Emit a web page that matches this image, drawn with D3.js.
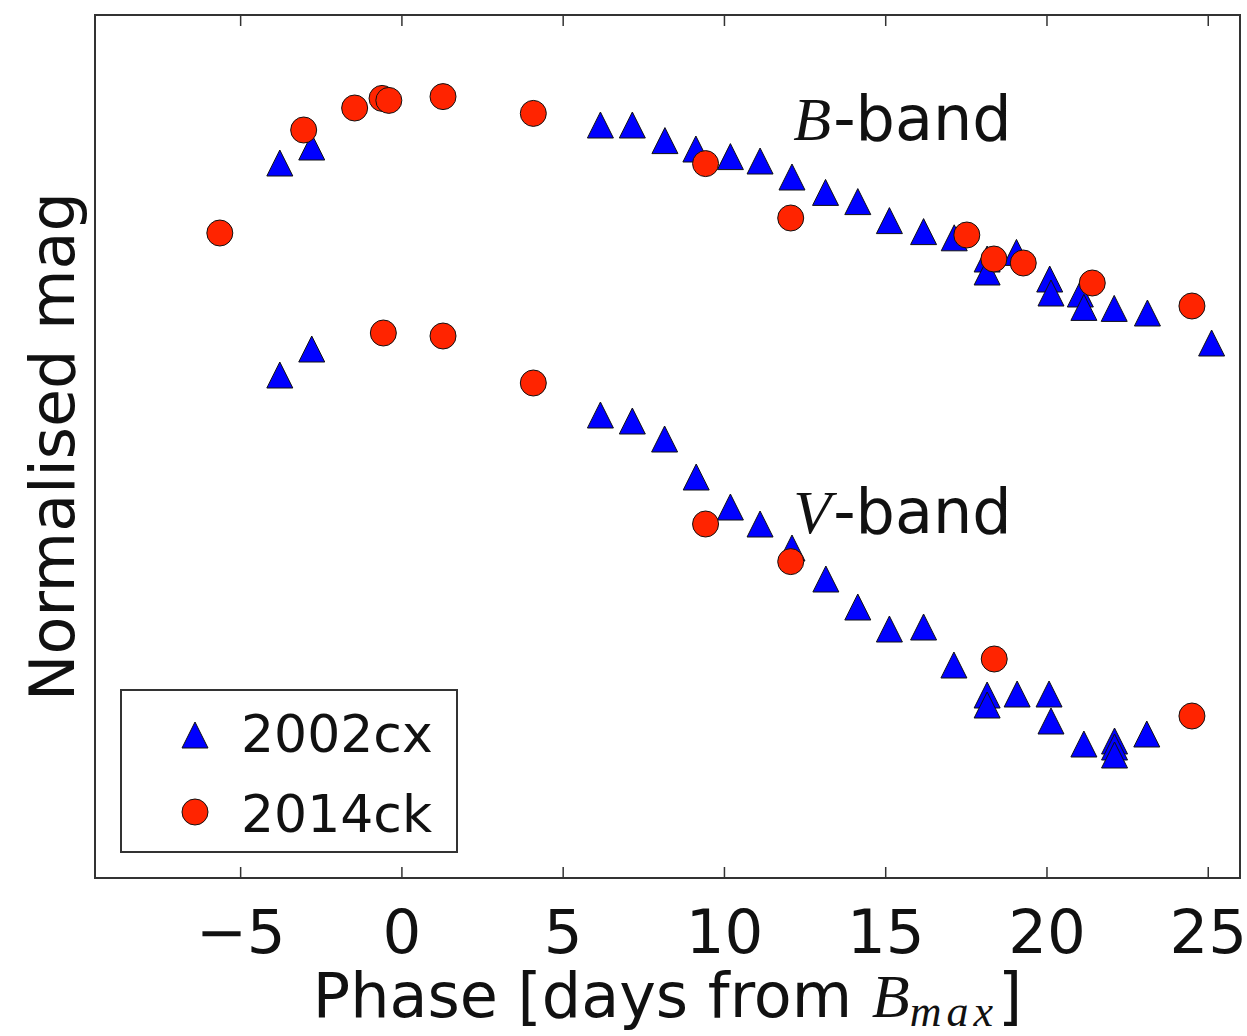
<!DOCTYPE html>
<html>
<head>
<meta charset="utf-8">
<script src="https://cdn.jsdelivr.net/npm/d3@7"></script>
<style>
  body { margin: 0; background: #fff; }
  svg { display: block; font-family: "DejaVu Sans", sans-serif; }
</style>
</head>
<body>
<svg id="chart" width="1247" height="1036"></svg>
<script>
// 2002cx, B-band
const cxBPhase = [-3.77, -2.78, 6.17, 7.16, 8.17, 9.13, 10.2, 11.12, 12.11, 13.15, 14.15, 15.13, 16.19, 17.14, 18.16, 18.16, 19.07, 20.1, 20.14, 21.05, 21.16, 22.1, 23.13, 25.12];
const cxBMag   = [0.34, 0.26, 0.15, 0.15, 0.228, 0.27, 0.308, 0.33, 0.41, 0.487, 0.533, 0.628, 0.683, 0.714, 0.82, 0.885, 0.787, 0.92, 0.99, 0.995, 1.062, 1.067, 1.09, 1.24];

// 2014ck, B-band
const ckBPhase = [-5.63, -3.03, -1.45, -0.6, -0.39, 1.29, 4.09, 9.43, 12.07, 17.53, 18.37, 19.28, 21.42, 24.51];
const ckBMag   = [0.69, 0.175, 0.065, 0.017, 0.027, 0.008, 0.092, 0.343, 0.615, 0.70, 0.82, 0.84, 0.94, 1.055];

// 2002cx, V-band
const cxVPhase = [-3.77, -2.78, 6.17, 7.16, 8.16, 9.14, 10.2, 11.12, 12.11, 13.16, 14.15, 15.13, 16.19, 17.13, 18.16, 18.16, 19.09, 20.08, 20.14, 21.16, 22.11, 22.11, 22.11, 23.11];
const cxVMag   = [1.40, 1.27, 1.60, 1.63, 1.72, 1.91, 2.06, 2.145, 2.265, 2.42, 2.56, 2.67, 2.66, 2.85, 3.0, 3.05, 2.995, 2.995, 3.13, 3.245, 3.23, 3.26, 3.30, 3.195];

// 2014ck, V-band
const ckVPhase = [-0.56, 1.29, 4.09, 9.43, 12.07, 18.38, 24.51];
const ckVMag   = [1.19, 1.205, 1.44, 2.145, 2.333, 2.82, 3.105];

const xTicks = [-5, 0, 5, 10, 15, 20, 25];
const legendNames = ['2002cx', '2014ck'];

const margin = { top: 15, right: 7, bottom: 158, left: 95 };
const svg = d3.select('#chart');
const W = +svg.attr('width'), H = +svg.attr('height');
const iw = W - margin.left - margin.right;
const ih = H - margin.top - margin.bottom;

const x = d3.scaleLinear().domain([-9.5, 26]).range([margin.left, margin.left + iw]);
// magnitudes: brighter is up
const y = d3.scaleLinear().domain([-0.4, 3.915]).range([margin.top, margin.top + ih]);

const BLUE = '#0000ff';
const RED = '#ff2400';
const MS = 26;

const triPath = `M0,${-MS / 2}L${MS / 2},${MS / 2}L${-MS / 2},${MS / 2}Z`;

const zip = (xs, ys) => xs.map((d, i) => ({ phase: d, mag: ys[i] }));

// ticks (inward, top and bottom)
const bottomAxis = svg.append('g')
    .attr('transform', `translate(0,${margin.top + ih})`)
    .call(d3.axisBottom(x).tickValues(xTicks).tickSizeInner(-11).tickSizeOuter(0));
bottomAxis.select('.domain').remove();
bottomAxis.selectAll('line').attr('stroke', '#333').attr('stroke-width', 1.5);
bottomAxis.selectAll('text')
    .attr('y', 75).attr('dy', null)
    .attr('font-size', 61)
    .attr('font-family', '"DejaVu Sans", sans-serif')
    .attr('fill', '#111');

const topAxis = svg.append('g')
    .attr('transform', `translate(0,${margin.top})`)
    .call(d3.axisTop(x).tickValues(xTicks).tickSizeInner(-11).tickSizeOuter(0).tickFormat(''));
topAxis.select('.domain').remove();
topAxis.selectAll('line').attr('stroke', '#333').attr('stroke-width', 1.5);

// frame
svg.append('rect')
    .attr('x', margin.left).attr('y', margin.top)
    .attr('width', iw).attr('height', ih)
    .attr('fill', 'none').attr('stroke', '#333').attr('stroke-width', 2);

const plot = svg.append('g');

function drawTriangles(data) {
    plot.append('g').selectAll('path')
        .data(data).enter().append('path')
        .attr('d', triPath)
        .attr('transform', d => `translate(${x(d.phase)},${y(d.mag)})`)
        .attr('fill', BLUE).attr('stroke', '#111').attr('stroke-width', 1);
}

function drawCircles(data) {
    plot.append('g').selectAll('circle')
        .data(data).enter().append('circle')
        .attr('cx', d => x(d.phase)).attr('cy', d => y(d.mag))
        .attr('r', MS / 2)
        .attr('fill', RED).attr('stroke', '#111').attr('stroke-width', 1);
}

drawTriangles(zip(cxBPhase, cxBMag));
drawCircles(zip(ckBPhase, ckBMag));
drawTriangles(zip(cxVPhase, cxVMag));
drawCircles(zip(ckVPhase, ckVMag));

// band labels
function bandLabel(letter, px, py) {
    const t = svg.append('text')
        .attr('x', x(px)).attr('y', y(py))
        .attr('font-size', 62).attr('fill', '#111');
    t.append('tspan')
        .attr('font-family', '"Liberation Serif", serif')
        .attr('font-style', 'italic')
        .text(letter);
    t.append('tspan')
        .attr('font-family', '"DejaVu Sans", sans-serif')
        .attr('dx', 2)
        .text('-band');
}
bandLabel('B', 12.15, 0.225);
bandLabel('V', 12.15, 2.19);

// axis labels
const xl = svg.append('text')
    .attr('x', margin.left + iw / 2).attr('y', 1017)
    .attr('text-anchor', 'middle')
    .attr('font-size', 62).attr('fill', '#111');
xl.append('tspan').text('Phase [days from ');
xl.append('tspan').attr('font-family', '"Liberation Serif", serif').attr('font-style', 'italic').text('B');
xl.append('tspan').attr('font-family', '"Liberation Serif", serif').attr('font-style', 'italic')
    .attr('font-size', 44).attr('dy', 9).attr('letter-spacing', 5).text('max');
xl.append('tspan').attr('dy', -9).text(']');

svg.append('text')
    .attr('transform', `translate(74,${margin.top + ih / 2}) rotate(-90)`)
    .attr('text-anchor', 'middle')
    .attr('font-size', 62).attr('fill', '#111')
    .text('Normalised mag');

// legend
const lg = svg.append('g');
lg.append('rect')
    .attr('x', 121).attr('y', 690).attr('width', 336).attr('height', 162)
    .attr('fill', '#fff').attr('stroke', '#333').attr('stroke-width', 2);
lg.append('path').attr('d', triPath).attr('transform', 'translate(195,735)')
    .attr('fill', BLUE).attr('stroke', '#111').attr('stroke-width', 1);
lg.append('circle').attr('cx', 195).attr('cy', 812).attr('r', MS / 2)
    .attr('fill', RED).attr('stroke', '#111').attr('stroke-width', 1);
lg.selectAll('text.lbl').data(legendNames).enter().append('text')
    .attr('class', 'lbl')
    .attr('x', 241).attr('y', (d, i) => 752 + i * 80)
    .attr('font-size', 52).attr('fill', '#111')
    .text(d => d);
</script>
</body>
</html>
